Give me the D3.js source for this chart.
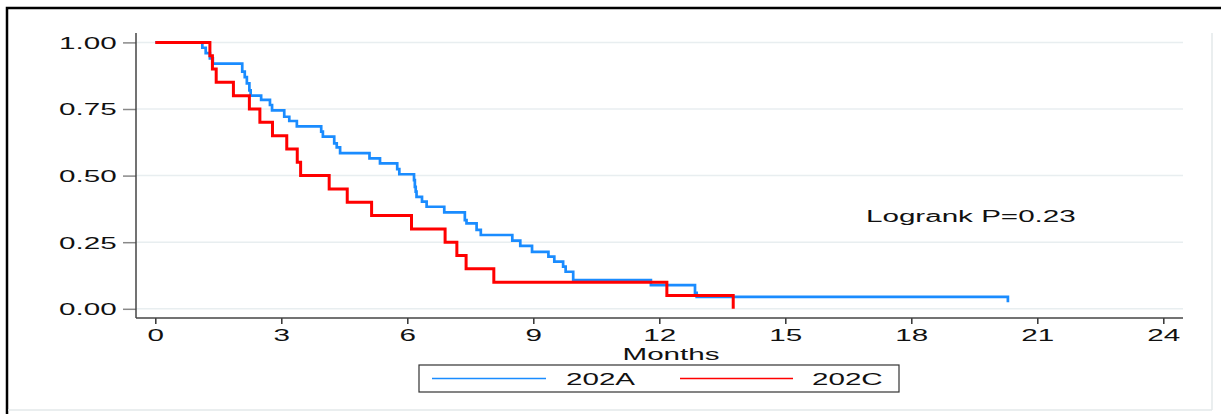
<!DOCTYPE html>
<html>
<head>
<meta charset="utf-8">
<script src="https://cdn.jsdelivr.net/npm/d3@7"></script>
<style>
  body { margin: 0; background: #fff; }
  svg { display: block; font-family: 'Liberation Sans', Arial, sans-serif; }
</style>
</head>
<body>
<div id="chart"><svg width="1221" height="414"></svg></div>
<script>
// Kaplan-Meier steps: [months, survival]
const times202A = [0, 1.12, 1.2, 1.3, 1.37, 2.07, 2.13, 2.18, 2.24, 2.27, 2.52, 2.73, 2.78, 3.07, 3.19, 3.37,
  3.95, 3.99, 4.26, 4.32, 4.4, 5.1, 5.35, 5.76, 5.81, 6.16, 6.18, 6.2, 6.22, 6.35, 6.46, 6.88,
  7.37, 7.41, 7.65, 7.75, 8.5, 8.69, 8.97, 9.36, 9.5, 9.71, 9.77, 9.95, 11.8, 12.85, 12.89, 20.3];
const surv202A = [1, 0.98, 0.96, 0.94, 0.92, 0.89, 0.87, 0.846, 0.82, 0.8, 0.784, 0.765, 0.745, 0.721, 0.705, 0.685,
  0.665, 0.646, 0.621, 0.606, 0.584, 0.565, 0.546, 0.524, 0.505, 0.483, 0.458, 0.44, 0.42, 0.402, 0.383, 0.362,
  0.333, 0.321, 0.296, 0.277, 0.256, 0.236, 0.214, 0.196, 0.177, 0.158, 0.139, 0.108, 0.089, 0.06, 0.045, 0.025];

const times202C = [0, 1.3, 1.36, 1.45, 1.86, 2.24, 2.49, 2.79, 3.13, 3.38, 3.46, 4.14, 4.57, 5.15, 6.1, 6.9,
  7.18, 7.4, 8.06, 12.18, 13.76];
const surv202C = [1, 0.95, 0.9, 0.85, 0.8, 0.75, 0.7, 0.65, 0.6, 0.55, 0.5, 0.45, 0.4, 0.35, 0.3, 0.25,
  0.2, 0.15, 0.1, 0.05, 0];

const xTicks = [0, 3, 6, 9, 12, 15, 18, 21, 24];
const yTicks = [0, 0.25, 0.5, 0.75, 1];
const groups = ['202A', '202C'];
const colors = ['#1a8cff', '#ff0000'];
const pText = 'Logrank P=0.23';

const SVG = d3.select('#chart svg');
const SX = 1.85; // stata export text is stretched sideways

const x = d3.scaleLinear().domain([0, 24]).range([155.3, 1163.3]);
const y = d3.scaleLinear().domain([0, 1]).range([308.8, 42.4]);

// frame
SVG.append('rect')
  .attr('x', 7).attr('y', 8).attr('width', 1240).attr('height', 420)
  .attr('fill', 'none').attr('stroke', '#000').attr('stroke-width', 2.5);
SVG.append('line').attr('x1', 1212).attr('x2', 1212).attr('y1', 33).attr('y2', 410)
  .attr('stroke', '#e3e8ea').attr('stroke-width', 1.5);
SVG.append('line').attr('x1', 8).attr('x2', 1212).attr('y1', 410).attr('y2', 410)
  .attr('stroke', '#e3e8ea').attr('stroke-width', 1.5);

// gridlines
SVG.append('g').selectAll('line')
  .data(yTicks)
  .join('line')
  .attr('x1', 136).attr('x2', 1183)
  .attr('y1', (d) => y(d)).attr('y2', (d) => y(d))
  .attr('stroke', '#e8eef0').attr('stroke-width', 1.5);

// axes
const X_AXIS = SVG.append('g')
  .attr('transform', 'translate(0,318)')
  .call(d3.axisBottom(x).tickValues(xTicks).tickSize(6).tickFormat(d3.format('d')));
X_AXIS.select('.domain').remove();
X_AXIS.selectAll('.tick line').attr('stroke', '#333').attr('stroke-width', 1.5);
X_AXIS.selectAll('.tick text')
  .attr('y', 22.7).attr('dy', 0)
  .attr('transform', `scale(${SX},1)`)
  .style('font-size', '16px').style('fill', '#111');

const Y_AXIS = SVG.append('g')
  .attr('transform', 'translate(136,0)')
  .call(d3.axisLeft(y).tickValues(yTicks).tickSize(13).tickFormat(d3.format('.2f')));
Y_AXIS.select('.domain').remove();
Y_AXIS.selectAll('.tick line').attr('stroke', '#888').attr('stroke-width', 1.5);
Y_AXIS.selectAll('.tick text')
  .attr('x', -19.3 / SX).attr('dy', '0.37em')
  .attr('transform', `scale(${SX},1)`)
  .style('font-size', '16px').style('fill', '#111');

SVG.append('line').attr('x1', 136).attr('x2', 136).attr('y1', 33).attr('y2', 318)
  .attr('stroke', '#444').attr('stroke-width', 1.5);
SVG.append('line').attr('x1', 136).attr('x2', 1183).attr('y1', 318).attr('y2', 318)
  .attr('stroke', '#444').attr('stroke-width', 1.5);

// curves
const series = [
  { name: groups[0], color: colors[0], width: 2.7, pts: times202A.map((t, i) => [t, surv202A[i]]) },
  { name: groups[1], color: colors[1], width: 3, pts: times202C.map((t, i) => [t, surv202C[i]]) },
];
const line = d3.line()
  .x((d) => x(d[0]))
  .y((d) => y(d[1]))
  .curve(d3.curveStepAfter);

SVG.append('g').selectAll('path')
  .data(series)
  .join('path')
  .attr('d', (d) => line(d.pts))
  .attr('fill', 'none')
  .attr('stroke', (d) => d.color)
  .attr('stroke-width', (d) => d.width);

function stretchedText(tx, ty, str, anchor) {
  return SVG.append('text')
    .attr('transform', `translate(${tx},${ty}) scale(${SX},1)`)
    .attr('text-anchor', anchor)
    .style('font-size', '16px')
    .style('fill', '#111')
    .text(str);
}

stretchedText(671, 360, 'Months', 'middle');
stretchedText(866, 222, pText, 'start');

// legend
SVG.append('rect')
  .attr('x', 419).attr('y', 365).attr('width', 480).attr('height', 27)
  .attr('fill', '#fff').attr('stroke', '#333').attr('stroke-width', 1.2);
const legendX = [[432, 546, 566], [680, 793, 812]];
series.forEach((s, i) => {
  SVG.append('line')
    .attr('x1', legendX[i][0]).attr('x2', legendX[i][1])
    .attr('y1', 378.5).attr('y2', 378.5)
    .attr('stroke', s.color).attr('stroke-width', 1.5);
  stretchedText(legendX[i][2], 384.5, s.name, 'start');
});
</script>
</body>
</html>
